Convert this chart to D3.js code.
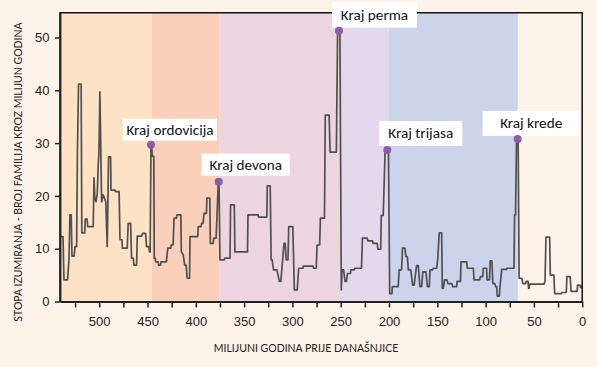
<!DOCTYPE html>
<html>
<head>
<meta charset="utf-8">
<script src="https://cdn.jsdelivr.net/npm/d3@7"></script>
<style>
  body { margin: 0; background: #fdf3e9; }
  svg { display: block; }
</style>
</head>
<body>
<svg id="chart" width="597" height="367"></svg>
<script>
(function () {
  'use strict';

  // geological periods as [start, end] in Ma
  var periods = [[541, 445.6], [445.6, 375.8], [375.8, 251.8], [251.8, 200.2], [200.2, 66.6], [66.6, 0]];
  var periodColors = ['#fde2c5', '#fbd0bb', '#ecd5df', '#e4d8ec', '#ccd4ec', '#fdf3e9'];

  // extinction rate: [Ma, families per million years]
  var extinctionRate = [
    [540.6, 12.3], [537.5, 12.3], [536.5, 4.1], [532.8, 4.1], [531.3, 8.0], [530.3, 16.4], [529, 16.4],
    [528.2, 8.6], [526, 8.6], [525, 10.4], [523.4, 10.4], [522.6, 27.8], [521.4, 41.2], [518.7, 41.2],
    [518, 13.0], [515, 13.0], [514.5, 15.6], [512.5, 15.6], [512, 14.2], [506.2, 14.2], [505.4, 23.4],
    [504.5, 19.5], [503.3, 18.9], [502, 20.5], [501, 26], [500.3, 28], [499.3, 39.7], [497.5, 18.9],
    [496, 20.2], [493.2, 18.9], [491.7, 10.4], [490.3, 27.4], [488.2, 27.4], [487.8, 21.1], [483.6, 21.1],
    [483.3, 20.8], [479.4, 20.8], [478.5, 11.7], [476.5, 11.7], [476, 10.1], [471, 10.1], [470, 14.8],
    [467.5, 14.8], [466.5, 8.2], [464.8, 8.2], [464, 6.9], [461.3, 6.9], [460.6, 12.4], [456, 12.4],
    [455.2, 12.9], [452, 12.9], [451, 10.4], [448.5, 10.4], [448, 9.4], [447.3, 9.4], [446.4, 29.7],
    [445.8, 29.7], [445, 27.5], [443.5, 27.5], [443, 8.2], [442, 8.2], [441.5, 7.5], [439, 7.5],
    [438.5, 6.9], [436.5, 6.9], [436, 7.5], [430.5, 7.5], [429, 10.1], [426, 10.1], [425.5, 10.7],
    [423.5, 10.7], [422.5, 15.8], [420, 15.8], [419.5, 16.4], [415.5, 16.4], [415, 9.4], [413, 8.8],
    [411.5, 6.9], [410, 6.9], [409, 4.4], [406.5, 4.4], [406, 12.3], [398, 12.3], [397.5, 14.2],
    [394.5, 14.2], [394, 14.8], [392.5, 14.8], [391.5, 16.7], [389, 16.7], [388.5, 19.6], [385.5, 19.6],
    [385, 11.0], [382, 11.0], [381.5, 12.0], [379, 12.0], [376.7, 22.7], [376, 22.7],
    [375, 7.9], [370.5, 7.9], [370, 8.2], [364.6, 8.2], [364, 18.3], [360.2, 18.3], [359.5, 9.4],
    [346.5, 9.4], [346, 16.4], [335.5, 16.4], [335, 16.0], [326.5, 16.0], [326, 21.9], [323, 21.9],
    [322, 7.9], [321, 7.9], [319.5, 6.0], [316, 6.0], [313.5, 3.8], [312, 3.8], [308.7, 11.0],
    [307.5, 11.0], [306.5, 7.9], [304.6, 7.9], [303.8, 14.2], [299.6, 14.2], [298, 2.2], [295, 2.2],
    [293.5, 6.3], [289, 6.3], [288.8, 6.7], [278.7, 6.7], [278, 6.3], [275.3, 6.3], [274.5, 10.7],
    [271.8, 10.7], [271, 15.8], [266.8, 15.8], [266, 35.3], [262, 35.3], [261, 28.3], [254.5, 28.3],
    [253.2, 51.3], [250.8, 51.3], [249.4, 2.2], [248.6, 6.0], [247, 6.0], [245.5, 3.8], [244, 3.8],
    [243, 5.3], [240, 5.3], [239.5, 6.0], [236, 6.0], [235.2, 6.3], [228.5, 6.3], [227.5, 12.0],
    [222.5, 12.0], [222, 11.5], [217, 11.5], [216.5, 11.0], [212.2, 11.0], [211.5, 9.9], [208.6, 9.9],
    [208, 16.3], [206, 16.3], [204, 28.7], [200.6, 28.7], [199.3, 1.5], [197, 1.5],
    [196.5, 2.8], [190.5, 2.8], [189.5, 6.0], [187, 6.0], [186, 10.1], [183.5, 10.1], [182.5, 8.5],
    [181, 8.5], [180, 6.0], [177.5, 6.0], [175.5, 3.1], [174, 3.1], [171.5, 6.8], [169.7, 6.8],
    [168, 2.8], [166.2, 2.8], [165, 5.6], [161.7, 5.6], [160.3, 2.8], [158.3, 2.8], [157.6, 6.0],
    [154.8, 6.0], [154.1, 6.3], [150.6, 6.3], [149.5, 8.2], [148, 13.0], [145.5, 13.0], [144.8, 2.5],
    [143.8, 2.5], [142.5, 4.1], [140, 4.1], [139, 3.4], [135, 3.4], [134, 2.8], [130, 2.8],
    [129.5, 3.8], [126, 3.8], [125.5, 7.5], [119.6, 7.5], [119, 6.3], [112.7, 6.3], [112, 4.1],
    [106, 4.1], [105.5, 4.7], [103, 4.7], [102.4, 6.3], [99, 6.3], [98.5, 4.1], [96, 4.1],
    [95.2, 7.7], [93.5, 7.7], [92.5, 3.4], [90.5, 3.4], [89.5, 2.8], [88.5, 2.8], [87.9, 1.0],
    [85.8, 1.0], [85, 3.1], [83.3, 6.1], [78.2, 6.1], [78, 6.3], [70.6, 6.3], [70, 16.4], [69, 16.4],
    [68, 30.8], [66.3, 30.8], [65.3, 4.4], [62.5, 4.4], [61.5, 3.4], [58.5, 3.4], [58, 3.8], [56, 3.8],
    [55.5, 2.5], [55, 2.5], [54.3, 3.3], [39.5, 3.3], [38.5, 3.8], [37.5, 12.2], [33.7, 12.2],
    [33, 5.0], [29.3, 5.0], [28.5, 1.5], [21.5, 1.5], [21, 1.7], [16.5, 1.7], [15.8, 4.7], [12.4, 4.7],
    [11.5, 1.9], [5.2, 1.9], [4.8, 3.1], [2.5, 3.1], [1.5, 2.6], [0.6, 2.6], [0, 3.0]
  ];

  // mass extinctions
  var eventNames = ['Kraj ordovicija', 'Kraj devona', 'Kraj perma', 'Kraj trijasa', 'Kraj krede'];
  var eventAge = [446.4, 376.3, 251.8, 201.8, 66.8];
  var eventRate = [29.7, 22.7, 51.3, 28.7, 30.8];

  var yTicks = [0, 10, 20, 30, 40, 50];
  var xTicks = [525, 500, 475, 450, 425, 400, 375, 350, 325, 300, 275, 250, 225, 200, 175, 150, 125, 100, 75, 50, 25, 0];

  // label box placement relative to the dot: dx, dy, width, height
  var boxes = [[-28, -26, 94, 22], [-17, -28, 88, 22], [-7, -29, 85, 26], [-8, -29, 83, 25], [-35, -28, 97, 25]];

  var svg = d3.select('#chart');
  var left = 60, right = 582.2, top = 12.7, bottom = 301.5;

  var x = d3.scaleLinear().domain([540.6, 0]).range([left, right]);
  var y = d3.scaleLinear().domain([0, 54.7]).range([bottom, top]);

  svg.append('rect').attr('width', 597).attr('height', 367).attr('fill', '#fdf3e9');

  svg.append('g').selectAll('rect')
    .data(periods)
    .join('rect')
    .attr('x', function (d) { return x(d[0]); })
    .attr('y', top)
    .attr('width', function (d) { return x(d[1]) - x(d[0]); })
    .attr('height', bottom - top)
    .attr('fill', function (d, i) { return periodColors[i]; });

  var line = d3.line()
    .x(function (d) { return x(d[0]); })
    .y(function (d) { return y(d[1]); });

  svg.append('path')
    .datum(extinctionRate)
    .attr('d', line)
    .attr('fill', 'none')
    .attr('stroke', '#505050')
    .attr('stroke-width', 1.7)
    .attr('stroke-linejoin', 'round');

  // frame
  svg.append('path')
    .attr('d', 'M' + left + ',' + bottom + 'V' + top + 'H' + right + 'V' + bottom)
    .attr('fill', 'none')
    .attr('stroke', '#111')
    .attr('stroke-width', 1.5);

  var yAxis = svg.append('g')
    .attr('transform', 'translate(' + left + ',0)')
    .call(d3.axisLeft(y).tickValues(yTicks).tickSize(5).tickSizeOuter(0).tickPadding(5.5));

  var xAxis = svg.append('g')
    .attr('transform', 'translate(0,' + bottom + ')')
    .call(d3.axisBottom(x).tickValues(xTicks).tickSize(6).tickSizeOuter(0).tickPadding(9.5)
      .tickFormat(function (d) { return d % 50 === 0 ? d : ''; }));

  [yAxis, xAxis].forEach(function (g) {
    g.selectAll('path.domain').attr('stroke', '#222').attr('stroke-width', 1.8);
    g.selectAll('.tick line').attr('stroke', '#222').attr('stroke-width', 1.5);
    g.selectAll('.tick text')
      .attr('fill', '#222')
      .style('font-family', '"Liberation Sans", Arial, sans-serif')
      .style('font-size', '13px');
  });

  svg.append('text')
    .attr('x', 306)
    .attr('y', 352)
    .attr('text-anchor', 'middle')
    .attr('fill', '#222')
    .style('font-family', '"Lato", "Liberation Sans", sans-serif')
    .style('font-size', '10.5px')
    .text('MILIJUNI GODINA PRIJE DANAŠNJICE');

  svg.append('text')
    .attr('transform', 'translate(22,172) rotate(-90)')
    .attr('text-anchor', 'middle')
    .attr('fill', '#222')
    .style('font-family', '"Lato", "Liberation Sans", sans-serif')
    .style('font-size', '10.5px')
    .text('STOPA IZUMIRANJA - BROJ FAMILIJA KROZ MILIJUN GODINA');

  // annotations
  var ann = svg.append('g').selectAll('g')
    .data(eventNames)
    .join('g')
    .attr('transform', function (d, i) {
      return 'translate(' + x(eventAge[i]) + ',' + y(eventRate[i]) + ')';
    });

  ann.append('rect')
    .attr('x', function (d, i) { return boxes[i][0]; })
    .attr('y', function (d, i) { return boxes[i][1]; })
    .attr('width', function (d, i) { return boxes[i][2]; })
    .attr('height', function (d, i) { return boxes[i][3]; })
    .attr('fill', '#fff');

  ann.append('text')
    .attr('x', function (d, i) { return boxes[i][0] + boxes[i][2] / 2; })
    .attr('y', function (d, i) { return boxes[i][1] + boxes[i][3] / 2 + 5; })
    .attr('text-anchor', 'middle')
    .attr('fill', '#111')
    .style('font-family', 'Carlito, "Lato", sans-serif')
    .style('font-size', '15.2px')
    .text(function (d) { return d; });

  ann.append('circle')
    .attr('r', 4)
    .attr('fill', '#8b5ca8');
})();
</script>
</body>
</html>
